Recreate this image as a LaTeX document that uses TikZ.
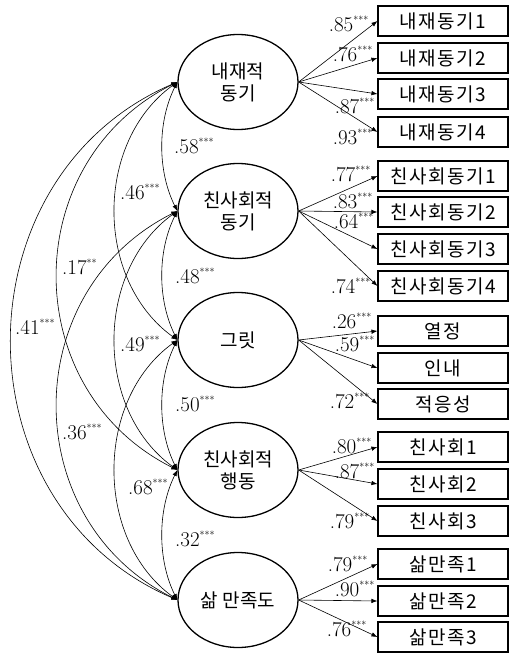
\documentclass[tikz,border=0pt]{standalone}
\usepackage{fontspec}
\newfontfamily\kr{Noto Sans CJK KR}
\newfontfamily\krw[LetterSpace=8]{Noto Sans CJK KR}
\usetikzlibrary{arrows.meta,shapes.geometric}
\newcommand{\threestar}{\textsuperscript{\fontsize{10}{10}\selectfont ***}}
\newcommand{\twostar}{\textsuperscript{\fontsize{10}{10}\selectfont **}}

\begin{document}
\begin{tikzpicture}[x=1pt,y=-1pt,
 lat/.style={ellipse, draw, line width=1.3pt, minimum width=120pt, minimum height=95pt, inner sep=0pt, align=center, font=\kr\fontsize{19}{22}\selectfont},
 obs/.style={draw, line width=1.1pt, minimum width=130pt, minimum height=30pt, inner sep=0pt, font=\krw\fontsize{19}{22}\selectfont},
 ld/.style={-{Latex[length=6pt,width=4.5pt]}, line width=0.6pt},
 cov/.style={{Latex[length=6pt,width=4.5pt]}-{Latex[length=6pt,width=4.5pt]}, line width=0.6pt},
 coef/.style={font=\fontsize{21}{23}\selectfont, inner sep=0pt},
]
 \useasboundingbox (0,0) rectangle (510,653);
 % latent factors
 \node[lat] (e1) at (238,82) {내재적\\동기};
 \node[lat] (e2) at (238,211) {친사회적\\동기};
 \node[lat] (e3) at (238,340) {그릿};
 \node[lat] (e4) at (238,470) {친사회적\\행동};
 \node[lat] (e5) at (238,600) {삶 만족도};
 % indicators
 \foreach \n/\y/\t in {m1/21/내재동기1, m2/58/내재동기2, m3/94/내재동기3, m4/132/내재동기4,
   p1/176/친사회동기1, p2/212/친사회동기2, p3/249/친사회동기3, p4/286/친사회동기4,
   g1/331/열정, g2/368/인내, g3/404/적응성,
   b1/447/친사회1, b2/484/친사회2, b3/521/친사회3,
   s1/564/삶만족1, s2/601/삶만족2, s3/637/삶만족3}
   \node[obs] (\n) at (443,\y) {\t};
 % loadings
 \foreach \e/\n in {e1/m1, e1/m2, e1/m3, e1/m4, e2/p1, e2/p2, e2/p3, e2/p4,
   e3/g1, e3/g2, e3/g3, e4/b1, e4/b2, e4/b3, e5/s1, e5/s2, e5/s3}
   \draw[ld] (\e.east) -- (\n.west);
 \foreach \x/\y/\v [count=\i] in {369/25/85, 373/55/76, 375/107/87, 373/138/93,
   371/175/77, 373/202/83, 374/222/64, 371/287/74,
   372/322/26, 375/345/59, 370/402/72,
   372/447/80, 375/472/87, 370/522/79,
   368/565/79, 375/590/90, 367/630/76}
   \node[coef, anchor=base east] (w\i) at (\x,\y+6) {.\v\threestar};
 % correlations between factors
 \draw[cov] (e1.west) .. controls +(-20,40) and +(-20,-40) .. (e2.west);
 \draw[cov] (e2.west) .. controls +(-20,40) and +(-20,-40) .. (e3.west);
 \draw[cov] (e3.west) .. controls +(-20,40) and +(-20,-40) .. (e4.west);
 \draw[cov] (e4.west) .. controls +(-20,40) and +(-20,-40) .. (e5.west);
 \draw[cov] (e1.west) .. controls +(-83,60) and +(-83,-60) .. (e3.west);
 \draw[cov] (e2.west) .. controls +(-83,60) and +(-83,-60) .. (e4.west);
 \draw[cov] (e3.west) .. controls +(-83,60) and +(-83,-60) .. (e5.west);
 \draw[cov] (e1.west) .. controls +(-160,80) and +(-160,-80) .. (e4.west);
 \draw[cov] (e2.west) .. controls +(-160,80) and +(-160,-80) .. (e5.west);
 \draw[cov] (e1.west) .. controls +(-221,95) and +(-221,-95) .. (e5.west);
 \foreach \x/\y/\v [count=\i] in {174/147/.58\threestar, 175/277/.48\threestar, 175/405/.50\threestar, 175/540/.32\threestar,
   120/193/.46\threestar, 120/345/.49\threestar, 128/488/.68\threestar,
   62/268/.17\twostar, 62/433/.36\threestar, 15/328/.41\threestar}
   \node[coef, anchor=base west] (r\i) at (\x,\y+6) {\v};
\end{tikzpicture}
\end{document}
